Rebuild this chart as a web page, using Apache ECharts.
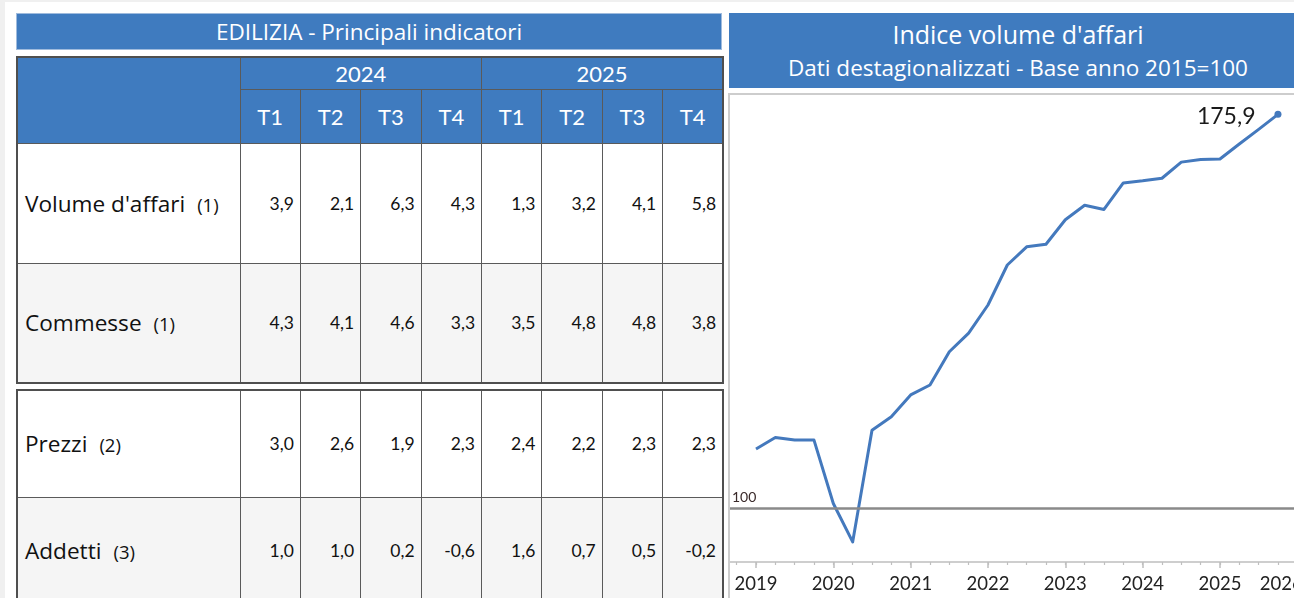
<!DOCTYPE html>
<html lang="it">
<head>
<meta charset="utf-8">
<title>EDILIZIA - Principali indicatori</title>
<script src="https://cdn.jsdelivr.net/npm/echarts@6/dist/echarts.min.js"></script>
<style>
	html, body { margin: 0; padding: 0; }
	body { width: 1294px; height: 598px; overflow: hidden; background: #f0f0f0; position: relative; font-family: Lato, "Open Sans", sans-serif; }
	.pagina { position: absolute; left: 5px; top: 2px; width: 1320px; height: 620px; background: #fff; }
	.titolo { position: absolute; left: 16px; top: 13px; width: 706px; height: 37px; background: #3f7bbf; color: #fff;
		font-family: "Open Sans", sans-serif; font-size: 22.5px; line-height: 36px; text-align: center; box-sizing: border-box; border: 1px solid #9fbbdd; }
	.tb { position: absolute; left: 16px; width: 706px; border-collapse: collapse; table-layout: fixed; border: 2px solid #4f4f4f; }
	.tb td { border: 1.5px solid #5a5a5a; padding: 0; }
	.tb .blu { background: #3f7bbf; color: #fff; text-align: center; font-size: 22px; }
	.tb .nome { font-family: "Open Sans", sans-serif; font-size: 22.6px; color: #111; padding-left: 7px; white-space: nowrap; }
	.tb .nome span { font-size: 18.5px; margin-left: 12px; }
	.tb .val { font-size: 17.5px; color: #111; text-align: right; padding-right: 6px; }
	.tb tr.grigio td { background: #f5f5f5; }
	.testata { position: absolute; left: 729px; top: 13px; width: 578px; height: 75px; background: #3f7bbf; color: #fff; text-align: center;
		font-family: "Open Sans", sans-serif; }
	.testata .t1 { font-size: 25px; line-height: 26px; padding-top: 8px; }
	.testata .t2 { font-size: 22.5px; line-height: 24px; padding-top: 9px; }
	#indiceChart { position: absolute; left: 728px; top: 93px; width: 580px; height: 510px; border-top: 2px solid #cdcdcd; border-left: 2px solid #cdcdcd; background: #fff; }
</style>
</head>
<body>
<div class="pagina"></div>
<div class="titolo">EDILIZIA - Principali indicatori</div>
<table class="tb" id="tab1" style="top:56px"></table>
<table class="tb" id="tab2" style="top:389px"></table>
<div class="testata">
	<div class="t1">Indice volume d'affari</div>
	<div class="t2">Dati destagionalizzati - Base anno 2015=100</div>
</div>
<div id="indiceChart"></div>

<script type="text/javascript">
// tabella
var anni = ['2024', '2025'];
var trimestri = ['T1', 'T2', 'T3', 'T4'];
var indicatori = ["Volume d'affari", 'Commesse', 'Prezzi', 'Addetti'];
var note = ['(1)', '(1)', '(2)', '(3)'];
var volumeAffari = [3.9, 2.1, 6.3, 4.3, 1.3, 3.2, 4.1, 5.8];
var commesse = [4.3, 4.1, 4.6, 3.3, 3.5, 4.8, 4.8, 3.8];
var prezzi = [3.0, 2.6, 1.9, 2.3, 2.4, 2.2, 2.3, 2.3];
var addetti = [1.0, 1.0, 0.2, -0.6, 1.6, 0.7, 0.5, -0.2];

// grafico: indice trimestrale 2015=100
var periodi = ['2019-T1', '2019-T2', '2019-T3', '2019-T4',
	'2020-T1', '2020-T2', '2020-T3', '2020-T4',
	'2021-T1', '2021-T2', '2021-T3', '2021-T4',
	'2022-T1', '2022-T2', '2022-T3', '2022-T4',
	'2023-T1', '2023-T2', '2023-T3', '2023-T4',
	'2024-T1', '2024-T2', '2024-T3', '2024-T4',
	'2025-T1', '2025-T2', '2025-T3', '2025-T4'];
var indice = [111.5, 113.7, 113.2, 113.2,
	101.0, 93.6, 115.1, 117.7,
	121.9, 123.8, 130.2, 133.8,
	139.2, 146.9, 150.4, 150.9,
	155.6, 158.4, 157.6, 162.7,
	163.1, 163.6, 166.7, 167.2,
	167.3, 170.2, 173.0, 175.9];
var anniAsse = [2019, 2020, 2021, 2022, 2023, 2024, 2025, 2026];
var base = 100;

function fmt(v) {
	return v.toFixed(1).replace('.', ',');
}

var righe = [volumeAffari, commesse, prezzi, addetti];
var colgroup = '<colgroup><col style="width:223px">';
for (var c = 0; c < 8; c++) colgroup += '<col style="width:60.375px">';
colgroup += '</colgroup>';

var h1 = colgroup;
h1 += '<tr style="height:32px"><td class="blu" rowspan="2"></td>';
for (var a = 0; a < anni.length; a++) h1 += '<td class="blu" colspan="4">' + anni[a] + '</td>';
h1 += '</tr><tr style="height:54px">';
for (var a = 0; a < anni.length; a++)
	for (var q = 0; q < trimestri.length; q++) h1 += '<td class="blu">' + trimestri[q] + '</td>';
h1 += '</tr>';

function rigaHtml(i, h) {
	var s = '<tr style="height:' + h + 'px"' + (i % 2 == 1 ? ' class="grigio"' : '') + '>';
	s += '<td class="nome">' + indicatori[i] + '<span>' + note[i] + '</span></td>';
	for (var k = 0; k < righe[i].length; k++) s += '<td class="val">' + fmt(righe[i][k]) + '</td>';
	return s + '</tr>';
}
h1 += rigaHtml(0, 120) + rigaHtml(1, 120);
document.getElementById('tab1').innerHTML = h1;
document.getElementById('tab2').innerHTML = colgroup + rigaHtml(2, 107) + rigaHtml(3, 107);

// posizione sull'asse: anno + trimestre
var dati = [];
for (var i = 0; i < periodi.length; i++) {
	var p = periodi[i].split('-T');
	var item = [parseInt(p[0]) + (parseInt(p[1]) - 1) / 4, indice[i]];
	if (i == periodi.length - 1) {
		item = {
			value: item,
			symbol: 'circle',
			symbolSize: 7,
			label: {
				show: true, position: 'left', distance: 19, offset: [0, 2],
				fontSize: 23, color: '#1a1a1a',
				formatter: function (d) { return fmt(d.value[1]); }
			}
		};
	}
	dati.push(item);
}
var tickTrimestri = [];
for (var y = anniAsse[0] - 1; y <= anniAsse[anniAsse.length - 1]; y++)
	for (var q = 0; q < 4; q++) tickTrimestri.push(y + q / 4);

var myChart = echarts.init(document.getElementById('indiceChart'));
option = {
	animation: false,
	textStyle: { fontFamily: 'Lato, "Open Sans", sans-serif' },
	grid: { left: 0, right: 12.7, top: 0, bottom: 43, containLabel: false },
	xAxis: [{
		type: 'value',
		min: 2018.6638,
		max: 2026,
		position: 'bottom',
		splitLine: { show: false },
		axisLine: { show: true, lineStyle: { color: '#bfbfbf', width: 1.5 } },
		axisTick: { show: true, customValues: anniAsse, length: 6, lineStyle: { color: '#bfbfbf', width: 1.5 } },
		axisLabel: {
			customValues: anniAsse, fontSize: 18.5, color: '#222', margin: 13,
			formatter: function (v) {
				// l'ultimo anno resta tagliato sul bordo come nell'originale
				return v == anniAsse[anniAsse.length - 1] ? '{u|' + v + '}' : String(v);
			},
			rich: { u: { fontSize: 18.5, color: '#222', padding: [0, 32, 0, 0] } }
		}
	}, {
		type: 'value',
		min: 2018.6638,
		max: 2026,
		position: 'bottom',
		splitLine: { show: false },
		axisLine: { show: false },
		axisTick: { show: true, customValues: tickTrimestri, length: 3, lineStyle: { color: '#bfbfbf', width: 1.2 } },
		axisLabel: { show: false }
	}],
	yAxis: {
		type: 'value',
		min: 89.74,
		max: 179.62,
		show: false,
		splitLine: { show: false }
	},
	series: [{
		type: 'line',
		data: dati,
		symbol: 'none',
		lineStyle: { color: '#4479bd', width: 3, join: 'round' },
		itemStyle: { color: '#4479bd' },
		markLine: {
			silent: true,
			symbol: 'none',
			data: [{ yAxis: base }],
			lineStyle: { color: '#8a8a8a', width: 2.5, type: 'solid' },
			label: { position: 'insideStartTop', formatter: '100', fontSize: 14, color: '#3a2a2a', distance: [2, 4] }
		},
		z: 3
	}]
};
if (option && typeof option === 'object') {
	myChart.setOption(option);
}
</script>
</body>
</html>
